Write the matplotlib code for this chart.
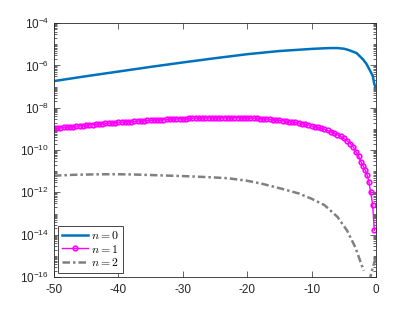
import numpy as np
import matplotlib
matplotlib.use("Agg")
import matplotlib.pyplot as plt
from matplotlib.ticker import FixedLocator, LogFormatterSciNotation, NullFormatter

plt.rcParams['font.family'] = ['Liberation Sans', 'DejaVu Sans']
plt.rcParams['mathtext.fontset'] = 'cm'
plt.rcParams['axes.unicode_minus'] = False

# ---- data (log10 of values) ----
x0 = [-50, -45, -40, -35, -30, -25, -20, -15, -12, -10, -8, -7, -6, -5, -4.5, -4,
      -3, -2, -1.5, -1, -0.5, -0.26, -0.1]
logy0 = [-6.74, -6.51, -6.29, -6.07, -5.86, -5.66, -5.47, -5.32, -5.26, -5.22, -5.19,
         -5.18, -5.18, -5.21, -5.25, -5.30, -5.42, -5.72, -5.92, -6.20, -6.50, -6.88, -7.0]

x1_main = list(np.arange(-50.0, -3.4, 0.5))
logy1_main = [-8.98, -8.96, -8.95, -8.93, -8.92, -8.90, -8.89, -8.87, -8.86, -8.84,
              -8.83, -8.81, -8.80, -8.78, -8.77, -8.75, -8.74, -8.73, -8.72, -8.70,
              -8.69, -8.68, -8.67, -8.66, -8.65, -8.64, -8.63, -8.62, -8.61, -8.60,
              -8.59, -8.58, -8.57, -8.565, -8.56, -8.55, -8.54, -8.535, -8.53, -8.525,
              -8.52, -8.51, -8.50, -8.495, -8.49, -8.485, -8.48, -8.48, -8.48, -8.475,
              -8.47, -8.47, -8.47, -8.47, -8.47, -8.47, -8.47, -8.47, -8.47, -8.475,
              -8.48, -8.485, -8.49, -8.50, -8.51, -8.52, -8.53, -8.545, -8.56, -8.575,
              -8.59, -8.61, -8.63, -8.65, -8.67, -8.695, -8.72, -8.75, -8.78, -8.815,
              -8.85, -8.89, -8.93, -8.975, -9.02, -9.075, -9.13, -9.20, -9.27, -9.355,
              -9.45, -9.56, -9.69, -9.86]
x1_end = [-3.1, -2.69, -2.33, -1.97, -1.66, -1.35, -1.09, -0.82, -0.51, -0.26]
logy1_end = [-10.08, -10.29, -10.56, -10.76, -10.95, -11.19, -11.53, -11.99, -12.61, -13.79]

x2 = [-50, -47, -44, -41, -38, -35, -32, -29, -26, -23, -20, -18, -16, -14, -12, -10,
      -8, -6, -4.5, -3.2, -2.1, -1.9, np.nan, -1.0, -0.8, -0.5, -0.25, 0.0]
logy2 = [-11.21, -11.17, -11.15, -11.14, -11.15, -11.18, -11.21, -11.24, -11.28, -11.33,
         -11.45, -11.57, -11.72, -11.88, -12.05, -12.30, -12.60, -13.15, -13.80, -14.60,
         -15.54, -15.70, np.nan, -16.2, -15.9, -15.55, -15.3, -15.05]

labels = ['$n = 0$', '$n = 1$', '$n = 2$']
xticks = [-50, -40, -30, -20, -10, 0]

# ---- plot ----
fig = plt.figure(figsize=(4.15, 3.12), dpi=100)
ax = fig.add_axes([0.130, 0.112, 0.776, 0.814])

x1 = np.array(x1_main + x1_end)
logy1 = np.array(logy1_main + logy1_end)

ax.plot(x0, 10.0 ** np.array(logy0), color=(0, 0.447, 0.741), lw=1.8, label=labels[0])
ax.plot(x1, 10.0 ** logy1, color=(1, 0, 1), lw=1.0, marker='o', ms=3.3,
        mfc='none', mew=1.2, label=labels[1])
ax.plot(x2, 10.0 ** np.array(logy2), color=(0.5, 0.5, 0.5), lw=1.8,
        ls=(0, (3.0, 1.2, 1.0, 1.2)), label=labels[2])

ax.set_yscale('log')
ax.set_xlim(-50, 0)
ax.set_ylim(1e-16, 1e-4)
ax.set_xticks(xticks)
ax.set_xticklabels([str(t) for t in xticks])
ax.yaxis.set_major_locator(FixedLocator([10.0 ** k for k in range(-16, -3, 2)]))
ax.yaxis.set_major_formatter(LogFormatterSciNotation())
minors = []
for k in range(-16, -4):
    for s in range(1, 10):
        if s == 1 and k % 2 == 0:
            continue
        minors.append(s * 10.0 ** k)
ax.yaxis.set_minor_locator(FixedLocator(minors))
ax.yaxis.set_minor_formatter(NullFormatter())
ax.xaxis.set_minor_locator(FixedLocator([]))

axc = (0.15, 0.15, 0.15)
for sp in ax.spines.values():
    sp.set_color(axc)
    sp.set_linewidth(0.6)
ax.tick_params(which='both', direction='in', top=True, right=True, colors=axc,
               labelsize=8.5, width=0.5)
ax.tick_params(which='major', length=4)
ax.tick_params(which='minor', length=2)
ax.tick_params(axis='x', pad=5)

leg = ax.legend(loc='lower left', fontsize=8.5, handlelength=2.2, handletextpad=0.3,
                borderpad=0.3, labelspacing=0.15, fancybox=False, framealpha=1,
                borderaxespad=0.35)
leg.get_frame().set_edgecolor(axc)
leg.get_frame().set_linewidth(0.6)

fig.savefig('out.png', dpi=100)
